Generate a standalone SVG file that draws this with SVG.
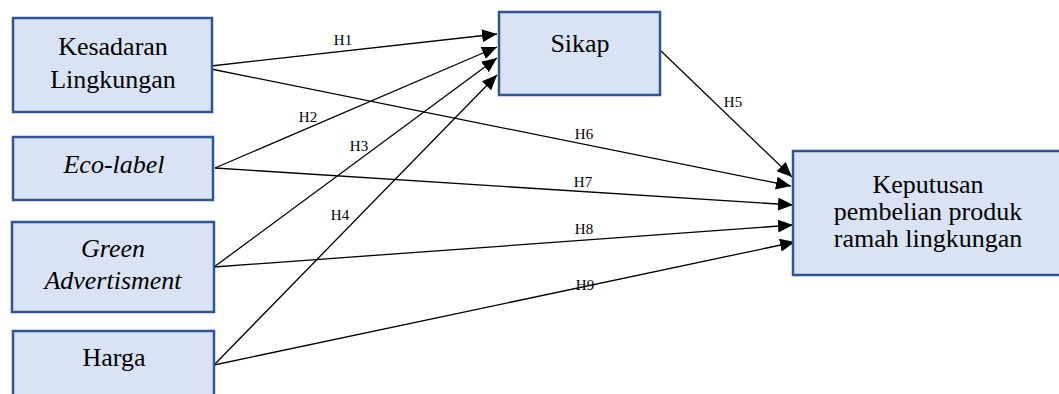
<svg xmlns="http://www.w3.org/2000/svg" width="1059" height="394" viewBox="0 0 1059 394">
<style>
.box{fill:#DAE3F3;stroke:#2F5597;stroke-width:2.5}
.t{font-family:"Liberation Serif","Times New Roman",serif;font-size:26px;fill:#000;text-anchor:middle}
.i{font-style:italic}
.lab{font-family:"Liberation Serif","Times New Roman",serif;font-size:15px;fill:#000;text-anchor:middle}
.c{stroke:#000;stroke-width:1.3;fill:none;marker-end:url(#ah)}
</style>
<defs>
<marker id="ah" markerUnits="userSpaceOnUse" markerWidth="16" markerHeight="14" refX="15" refY="6.5" orient="auto">
<path d="M0,0 L15,6.5 L0,13 z" fill="#000"/>
</marker>
</defs>
<rect width="1059" height="394" fill="#fff"/>
<g id="connectors">
<line class="c" x1="211" y1="66" x2="497" y2="34"/>
<line class="c" x1="215" y1="168" x2="497" y2="47"/>
<line class="c" x1="214" y1="267" x2="497" y2="58"/>
<line class="c" x1="214" y1="365" x2="497" y2="75"/>
<line class="c" x1="660" y1="50" x2="792" y2="177"/>
<line class="c" x1="211" y1="69" x2="791" y2="186"/>
<line class="c" x1="215" y1="168" x2="793" y2="205"/>
<line class="c" x1="214" y1="267" x2="793" y2="225"/>
<line class="c" x1="214" y1="365" x2="795" y2="242"/>
<text class="lab" x="343" y="45">H1</text>
<text class="lab" x="308" y="122">H2</text>
<text class="lab" x="359" y="151">H3</text>
<text class="lab" x="340" y="220">H4</text>
<text class="lab" x="733" y="107">H5</text>
<text class="lab" x="584" y="139">H6</text>
<text class="lab" x="583" y="187">H7</text>
<text class="lab" x="584" y="234">H8</text>
<text class="lab" x="585" y="290">H9</text>
</g>
<g id="kesadaran">
<rect class="box" x="13" y="18" width="199" height="94"/>
<text class="t" x="113" y="55">Kesadaran</text>
<text class="t" x="113" y="88">Lingkungan</text>
</g>
<g id="ecolabel">
<rect class="box" x="13" y="137" width="200" height="63"/>
<text class="t i" x="114" y="173">Eco-label</text>
</g>
<g id="green">
<rect class="box" x="12" y="222" width="202" height="90"/>
<text class="t i" x="113" y="257">Green</text>
<text class="t i" x="113" y="289">Advertisment</text>
</g>
<g id="harga">
<rect class="box" x="13" y="331" width="201" height="70"/>
<text class="t" x="114" y="366">Harga</text>
</g>
<g id="sikap">
<rect class="box" x="499" y="12" width="161" height="83"/>
<text class="t" x="580" y="52">Sikap</text>
</g>
<g id="keputusan">
<rect class="box" x="793" y="151" width="268" height="124"/>
<text class="t" x="928" y="193">Keputusan</text>
<text class="t" x="928" y="220">pembelian produk</text>
<text class="t" x="928" y="247">ramah lingkungan</text>
</g>
</svg>
